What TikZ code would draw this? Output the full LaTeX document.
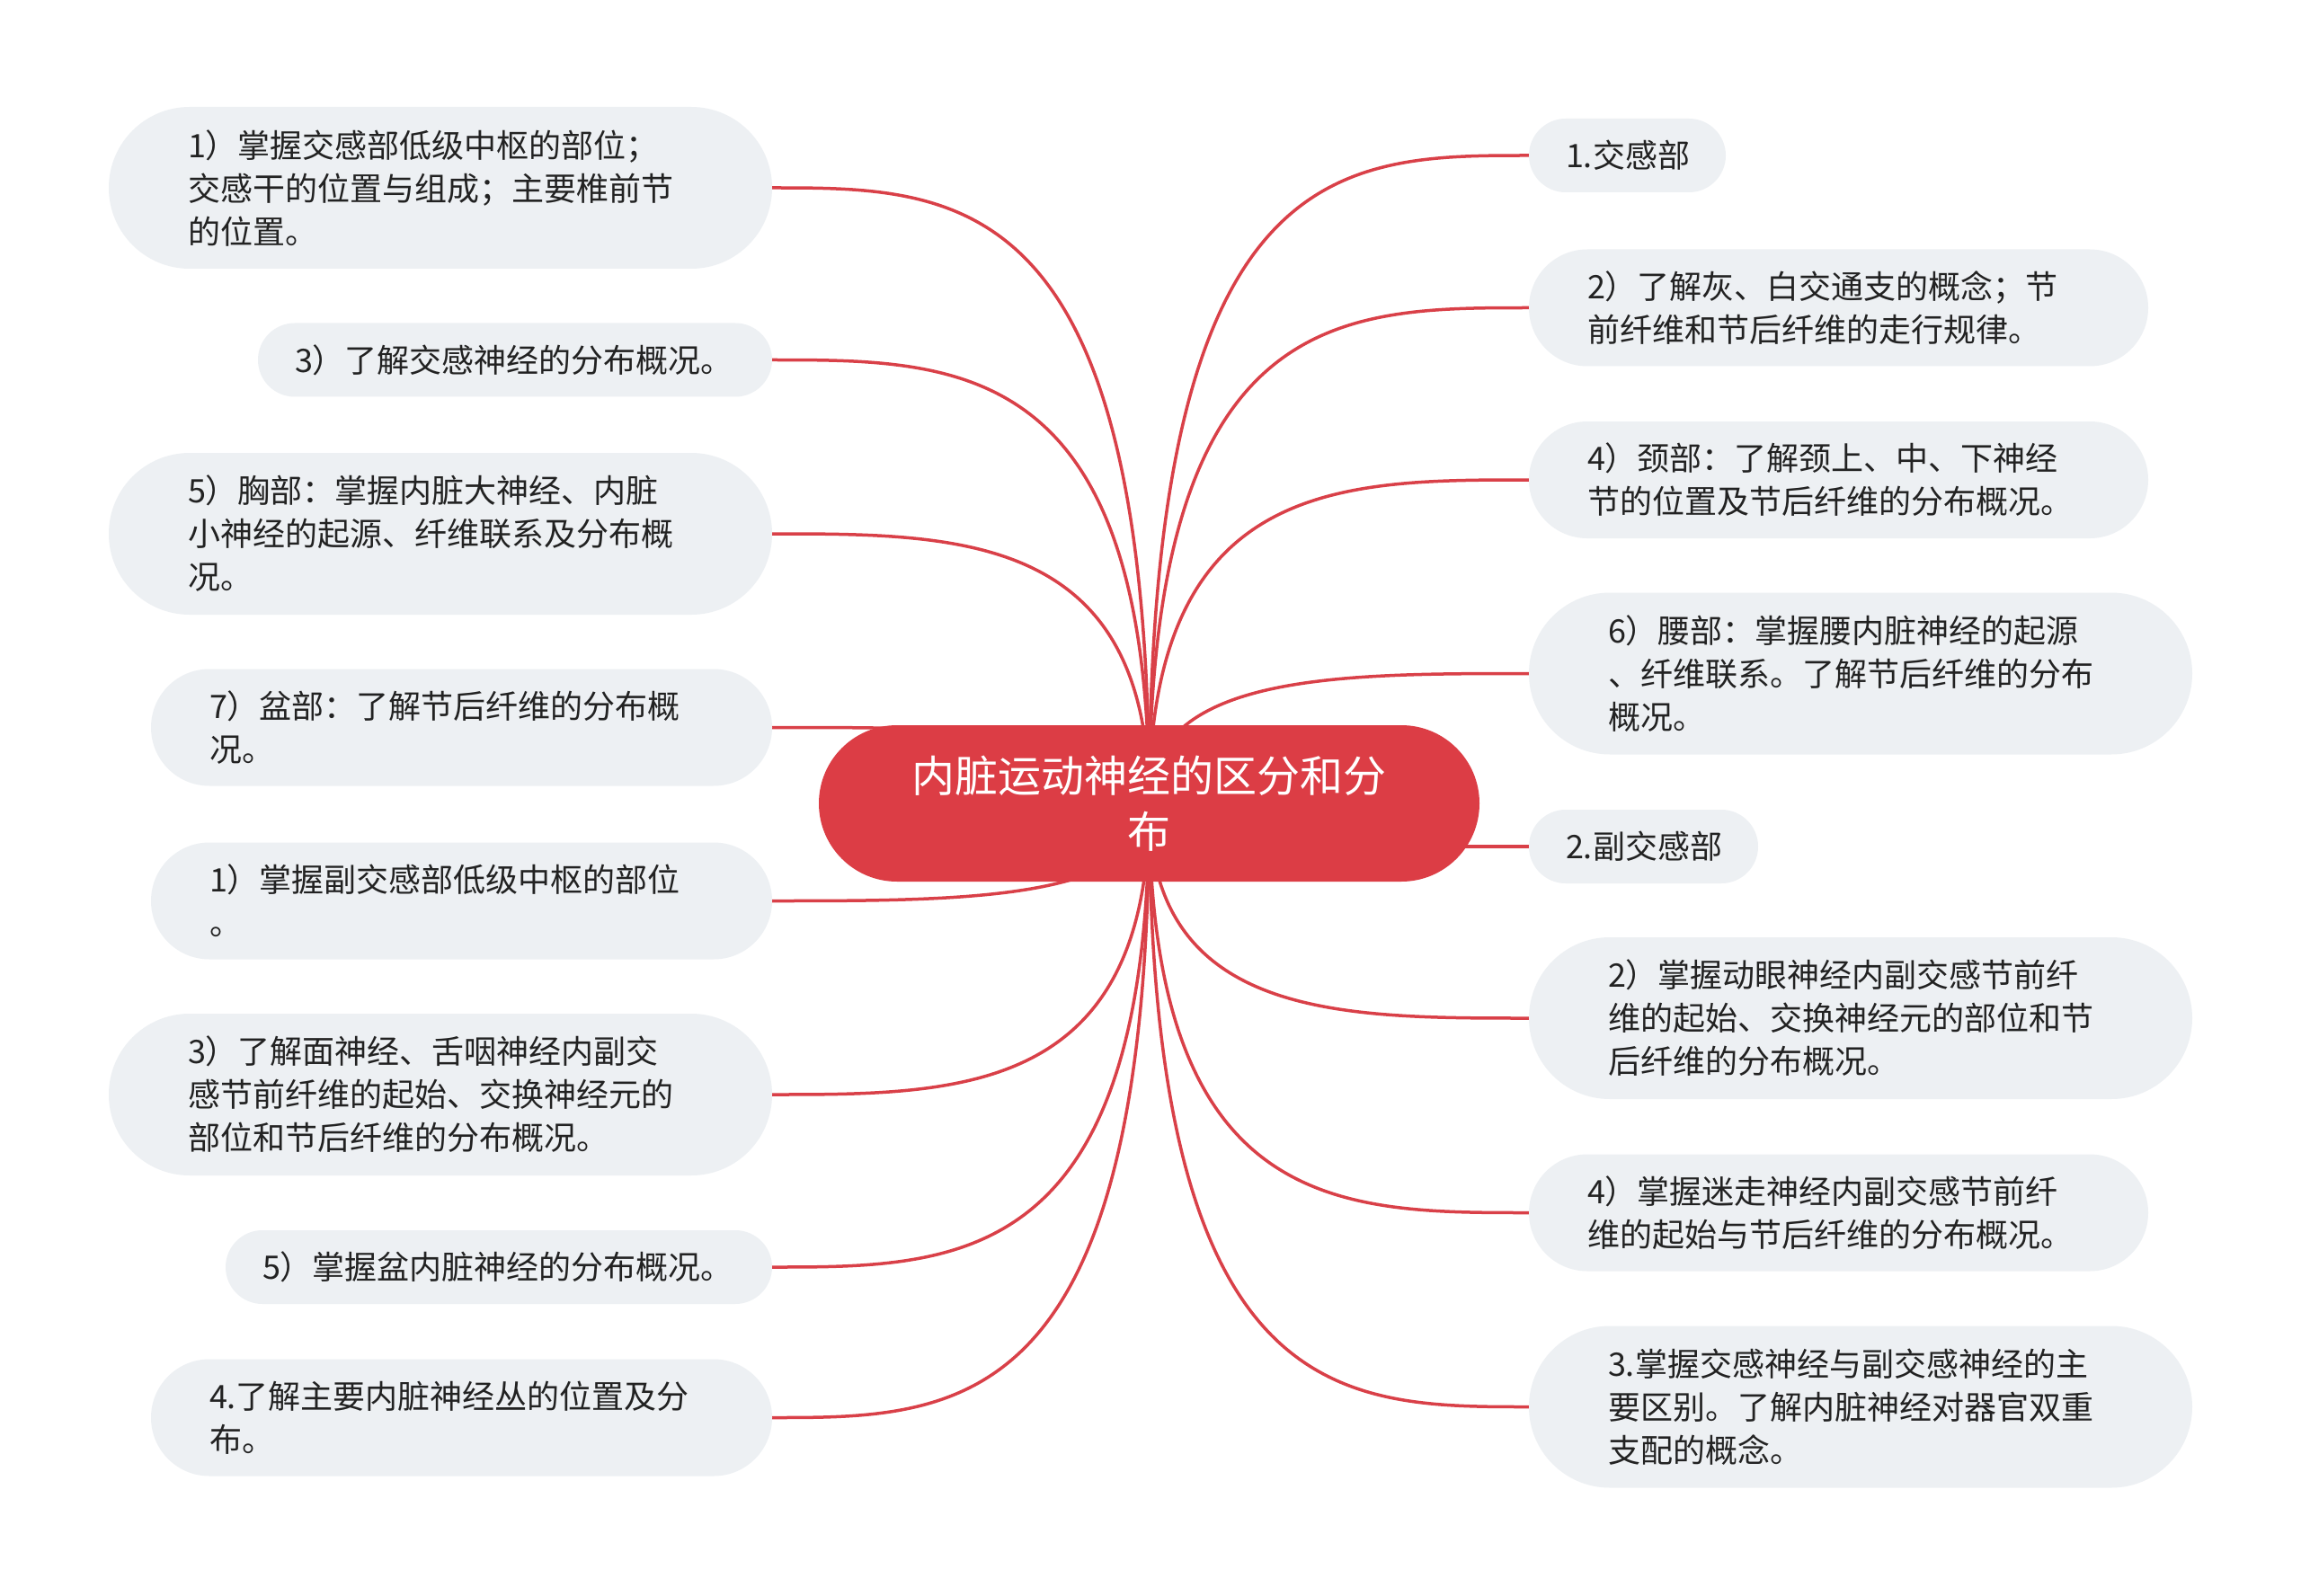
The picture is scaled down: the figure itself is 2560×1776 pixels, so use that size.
\documentclass[tikz,border=0pt]{standalone}
\usepackage{fontspec}
\setmainfont{Noto Sans CJK SC}
\usetikzlibrary{calc}
\definecolor{rootred}{RGB}{220,61,69}
\definecolor{linkred}{RGB}{217,64,72}
\definecolor{boxgray}{RGB}{237,240,243}
\definecolor{txt}{RGB}{34,34,34}
\pgfdeclarelayer{bg}
\pgfsetlayers{bg,main}
\newcommand{\linkto}[2]{\draw[link] (root.center) .. controls (root.center |- #1.#2) and ($(root.center |- #1.#2)!0.5!(#1.#2)$) .. (#1.#2);}
\begin{document}
\begin{tikzpicture}[x=1pt,y=-1pt,
  box/.style={fill=boxgray, inner ysep=0pt, align=left, text=txt, font=\fontsize{36}{48}\selectfont},
  one/.style={box, minimum height=82pt, rounded corners=41pt, inner xsep=41pt},
  two/.style={box, minimum height=130pt, rounded corners=65pt, inner xsep=65pt},
  three/.style={box, minimum height=180pt, rounded corners=90pt, inner xsep=88pt},
  rootbox/.style={fill=rootred, text=white, align=center, inner sep=0pt, text width=640pt,
    minimum width=735pt, minimum height=174pt, rounded corners=87pt, font=\fontsize{48}{62}\selectfont},
  link/.style={draw=linkred, line width=3.5pt}]
\useasboundingbox (0,0) rectangle (2560,1776);

\node[rootbox] (root) at (1278.5,894) {内脏运动神经的区分和分\\布};

% left side
\node[three, text width=562pt] (L1) at (490,209) {1）掌握交感部低级中枢的部位；\\交感干的位置与组成；主要椎前节\\的位置。};
\node[one, text width=490pt] (L2) at (573,400.5) {3）了解交感神经的分布概况。};
\node[three, text width=562pt] (L3) at (490,594) {5）胸部：掌握内脏大神经、内脏\\小神经的起源、纤维联系及分布概\\况。};
\node[two, text width=561pt] (L4) at (513.5,809.5) {7）盆部：了解节后纤维的分布概\\况。};
\node[two, text width=561pt] (L5) at (513.5,1002.5) {1）掌握副交感部低级中枢的部位\\。};
\node[three, text width=562pt] (L6) at (490,1218) {3）了解面神经、舌咽神经内副交\\感节前纤维的起始、交换神经元的\\部位和节后纤维的分布概况。};
\node[one, text width=526pt] (L7) at (555,1410) {5）掌握盆内脏神经的分布概况。};
\node[two, text width=561pt] (L8) at (513.5,1577.5) {4.了解主要内脏神经丛的位置及分\\布。};

% right side
\node[one, text width=137pt] (R1) at (1810.5,173) {1.交感部};
\node[two, text width=559pt] (R2) at (2045.5,342.5) {2）了解灰、白交通支的概念；节\\前纤维和节后纤维的走行规律。};
\node[two, text width=559pt] (R3) at (2045.5,534) {4）颈部：了解颈上、中、下神经\\节的位置及节后纤维的分布概况。};
\node[three, text width=562pt] (R4) at (2070,749.5) {6）腰部：掌握腰内脏神经的起源\\、纤维联系。了解节后纤维的分布\\概况。};
\node[one, text width=173pt] (R5) at (1828.5,942) {2.副交感部};
\node[three, text width=562pt] (R6) at (2070,1133) {2）掌握动眼神经内副交感节前纤\\维的起始、交换神经元的部位和节\\后纤维的分布概况。};
\node[two, text width=559pt] (R7) at (2045.5,1349.5) {4）掌握迷走神经内副交感节前纤\\维的起始与节后纤维的分布概况。};
\node[three, text width=562pt] (R8) at (2070,1565.5) {3.掌握交感神经与副交感神经的主\\要区别。了解内脏神经对器官双重\\支配的概念。};

\begin{pgfonlayer}{bg}
\fill[white] (0,0) rectangle (2560,1776);
\linkto{L1}{east}
\linkto{L2}{east}
\linkto{L3}{east}
\linkto{L4}{east}
\linkto{L5}{east}
\linkto{L6}{east}
\linkto{L7}{east}
\linkto{L8}{east}
\linkto{R1}{west}
\linkto{R2}{west}
\linkto{R3}{west}
\linkto{R4}{west}
\draw[link] (R5.west) -- (R5.west -| root.center);
\linkto{R6}{west}
\linkto{R7}{west}
\linkto{R8}{west}
\end{pgfonlayer}
\end{tikzpicture}
\end{document}
